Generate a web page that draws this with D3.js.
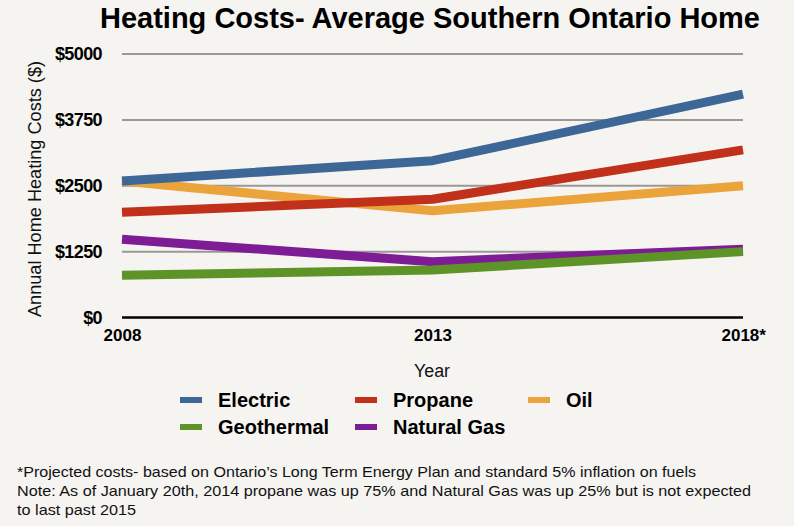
<!DOCTYPE html>
<html><head><meta charset="utf-8">
<script src="https://cdn.jsdelivr.net/npm/d3@7"></script>
<style>
html,body{margin:0;padding:0;background:#f5f4f1;}
svg{display:block;font-family:"Liberation Sans",Arial,Helvetica,sans-serif;}
</style></head>
<body>
<svg id="chart" width="794" height="526"></svg>
<script>
const years = ["2008", "2013", "2018*"];
const yTicks = [0, 1250, 2500, 3750, 5000];
const seriesNames = ["Electric", "Propane", "Oil", "Geothermal", "Natural Gas"];
const seriesColors = ["#3c6796", "#c0301b", "#eba33b", "#5e9427", "#7d1c95"];
const electric   = [2590, 2975, 4240];
const propane    = [1995, 2245, 3180];
const oil        = [2590, 2025, 2500];
const geothermal = [800, 900, 1250];
const naturalGas = [1485, 1060, 1295];
const seriesValues = [electric, propane, oil, geothermal, naturalGas];

const svg = d3.select("#chart");
svg.append("rect").attr("width", 794).attr("height", 526).attr("fill", "#f5f4f1");

const x = d3.scalePoint().domain(years).range([122, 743]);
const y = d3.scaleLinear().domain([0, 5000]).range([317.5, 54]);

// title
svg.append("text").attr("x", 100).attr("y", 28)
  .attr("font-size", 30).attr("font-weight", "bold").attr("fill", "#000")
  .attr("textLength", 660).attr("lengthAdjust", "spacingAndGlyphs")
  .text("Heating Costs- Average Southern Ontario Home");

// gridlines
svg.append("g").selectAll("line").data(yTicks.filter(d => d > 0)).join("line")
  .attr("x1", 122).attr("x2", 743)
  .attr("y1", d => y(d)).attr("y2", d => y(d))
  .attr("stroke", "#9a9896").attr("stroke-width", 2);
// baseline
svg.append("line").attr("x1", 122).attr("x2", 743)
  .attr("y1", y(0)).attr("y2", y(0)).attr("stroke", "#000").attr("stroke-width", 2.5);

// y axis
const yAxis = d3.axisLeft(y).tickValues(yTicks).tickSize(0).tickPadding(0)
  .tickFormat(d => "$" + d);
const gy = svg.append("g").attr("transform", "translate(102,0)").call(yAxis);
gy.select(".domain").remove();
gy.selectAll("text").attr("font-size", 18).attr("font-weight", "bold")
  .attr("fill", "#000").attr("font-family", "Liberation Sans, Arial, sans-serif")
  .attr("letter-spacing", -0.6);

// x axis
const xAxis = d3.axisBottom(x).tickSize(0).tickPadding(0);
const gx = svg.append("g").attr("transform", "translate(0,329)").call(xAxis);
gx.select(".domain").remove();
gx.selectAll("text").attr("font-size", 17).attr("font-weight", "bold")
  .attr("fill", "#000").attr("font-family", "Liberation Sans, Arial, sans-serif")
  .attr("text-anchor", d => d === "2018*" ? "start" : "middle")
  .attr("dx", d => d === "2018*" ? -22 : 0);

// axis titles
svg.append("text").attr("transform", "translate(41,189) rotate(-90)")
  .attr("text-anchor", "middle").attr("font-size", 18).attr("fill", "#111")
  .attr("textLength", 256).attr("lengthAdjust", "spacingAndGlyphs")
  .text("Annual Home Heating Costs ($)");
svg.append("text").attr("x", 432).attr("y", 377).attr("text-anchor", "middle")
  .attr("font-size", 18).attr("fill", "#111").attr("textLength", 36)
  .attr("lengthAdjust", "spacingAndGlyphs").text("Year");

// lines
const line = d3.line().x((d, i) => x(years[i])).y(d => y(d));
const drawOrder = [4, 3, 2, 1, 0];
svg.append("g").selectAll("path").data(drawOrder).join("path")
  .attr("d", i => line(seriesValues[i]))
  .attr("fill", "none").attr("stroke", i => seriesColors[i])
  .attr("stroke-width", 9).attr("stroke-linejoin", "round").attr("stroke-linecap", "butt");

// legend
const legendPos = [[180, 400], [355, 400], [528, 400], [180, 427], [355, 427]];
const lg = svg.append("g").selectAll("g").data(seriesNames).join("g")
  .attr("transform", (d, i) => `translate(${legendPos[i][0]},${legendPos[i][1]})`);
lg.append("rect").attr("x", 0).attr("y", -3).attr("width", 22).attr("height", 6)
  .attr("fill", (d, i) => seriesColors[i]);
lg.append("text").attr("x", 38).attr("y", 7).attr("font-size", 20)
  .attr("font-weight", "bold").attr("fill", "#000").text(d => d);

// footnotes
const notes = [
  ["*Projected costs- based on Ontario\u2019s Long Term Energy Plan and standard 5% inflation on fuels", 477, 679],
  ["Note: As of January 20th, 2014 propane was up 75% and Natural Gas was up 25% but is not expected", 496, 734],
  ["to last past 2015", 515, 119]
];
svg.append("g").selectAll("text").data(notes).join("text")
  .attr("x", 17).attr("y", d => d[1]).attr("font-size", 15).attr("fill", "#111")
  .attr("textLength", d => d[2]).attr("lengthAdjust", "spacingAndGlyphs")
  .text(d => d[0]);
</script>
</body></html>
